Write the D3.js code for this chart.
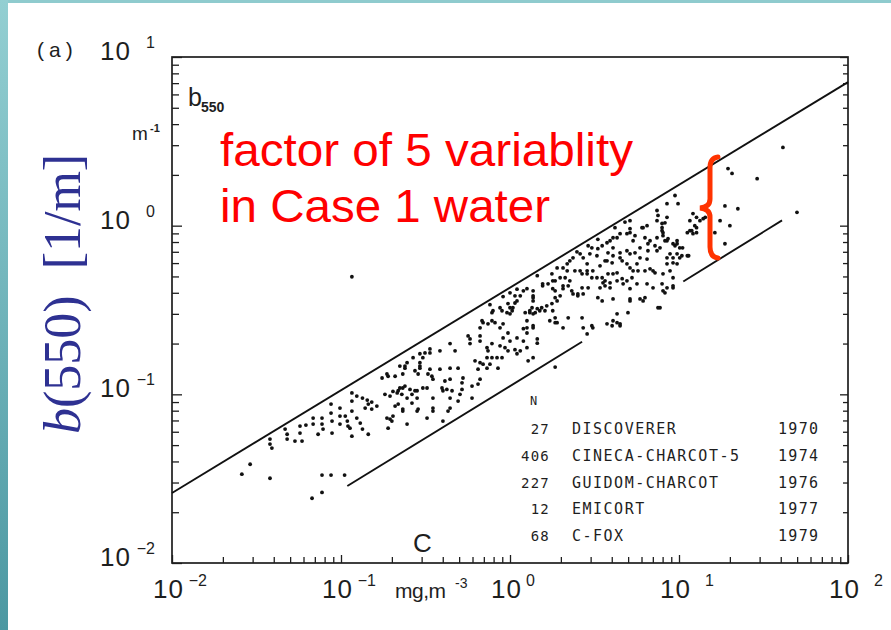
<!DOCTYPE html>
<html><head><meta charset="utf-8">
<script src="https://cdn.jsdelivr.net/npm/d3@7"></script>
<style>html,body{margin:0;padding:0;background:#fff;overflow:hidden;} svg{display:block;}</style>
</head><body>
<script>
// ---------- data ----------
const xTickExps = [-2, -1, 0, 1, 2];
const yTickExps = [-2, -1, 0, 1];
const upperBound  = [[0.01, 0.026], [100, 7.1]];
const lowerBoundA = [[0.109, 0.0286], [2.67, 0.205]];
const lowerBoundB = [[10.6, 0.467], [40.7, 1.075]];
const legendN      = ["27", "406", "227", "12", "68"];
const legendCruise = ["DISCOVERER", "CINECA-CHARCOT-5", "GUIDOM-CHARCOT", "EMICORT", "C-FOX"];
const legendYear   = ["1970", "1974", "1976", "1977", "1979"];

const ptsOligo = [[0.0259,0.0336],[0.029,0.0385],[0.038,0.0318],[0.0772,0.0332],[0.0873,0.0332],[0.105,0.0332],[0.0674,0.0242],[0.0772,0.0262],
[0.038,0.0543],[0.038,0.0507],[0.039,0.048],[0.0467,0.0622],[0.048,0.058],[0.048,0.0543],[0.0534,0.0528],[0.0572,0.0648],[0.0572,0.0589],[0.0588,0.0528],
[0.0684,0.0723],[0.0684,0.0666],[0.0772,0.0723],[0.0772,0.0666],[0.0783,0.0622],[0.0873,0.0876],[0.0873,0.0774],[0.0885,0.0694],[0.0885,0.0589],
[0.0986,0.0829],[0.0986,0.0743],[0.0986,0.0666],[0.106,0.0743],[0.109,0.0694],[0.11,0.0648],[0.116,0.102],[0.116,0.0912],[0.116,0.0796],[0.116,0.0565],
[0.124,0.0723],[0.13,0.0675],[0.134,0.0622],[0.145,0.058],[0.124,0.0977],[0.134,0.095],[0.143,0.0925],[0.152,0.09],[0.139,0.0829],[0.152,0.0818],[0.163,0.0852],
[0.182,0.1],[0.195,0.0977],[0.203,0.104],[0.218,0.105],[0.187,0.0723],[0.2,0.0694],[0.19,0.063],[0.187,0.132],[0.175,0.125],[0.113,0.063],[0.062,0.0657],[0.0732,0.058],[0.116,0.498]];

const ptsMeso = [[0.232,0.109],[0.246,0.095],[0.282,0.105],[0.323,0.109],[0.35,0.095],[0.401,0.105],[0.232,0.0796],[0.282,0.0796],[0.323,0.0723],[0.35,0.0796],[0.195,0.0713],[0.246,0.0666],[0.145,0.0876],[0.239,0.147],[0.293,0.147],[0.286,0.132],[0.345,0.128],[0.385,0.141],[0.412,0.12],[0.401,0.0694],[0.43,0.0796],
[0.229,0.1],[0.263,0.1],[0.282,0.095],[0.286,0.0818],[0.218,0.0876],[0.263,0.0888],[0.19,0.128],[0.209,0.128],[0.223,0.109],[0.239,0.112],[0.256,0.107],[0.274,0.105],[0.215,0.102],[0.209,0.0852],[0.232,0.0818],[0.203,0.0743],[0.35,0.0829],[0.305,0.109],
[0.442,0.095],[0.493,0.0912],[0.596,0.095],[0.442,0.0829],[0.506,0.1],[0.396,0.109],[0.423,0.107],[0.454,0.105],[0.52,0.107],[0.596,0.112],[0.647,0.115],[0.665,0.123],[0.442,0.123],[0.327,0.132],[0.35,0.123],[0.527,0.125],[0.52,0.117],
[0.239,0.143],[0.232,0.132],[0.293,0.154],[0.293,0.143],[0.274,0.138],[0.336,0.141],[0.442,0.143],[0.493,0.143],[0.223,0.147],[0.246,0.154],[0.267,0.165],[0.293,0.174],[0.336,0.176],[0.385,0.181],[0.442,0.2],[0.305,0.165],[0.314,0.176],[0.336,0.186],[0.473,0.181],
[0.58,0.213],[0.58,0.2],[0.665,0.207],[0.731,0.189],[0.782,0.2],[0.873,0.194],[0.934,0.189],[0.973,0.181],[1.07,0.184],[1.15,0.181],[0.741,0.181],[0.731,0.165],[0.782,0.165],[0.838,0.165],[0.897,0.165],[0.665,0.154],[0.693,0.151],[0.761,0.151],[0.621,0.158],[0.647,0.141],[0.731,0.143],[0.849,0.143],[1.28,0.158],[1.37,0.165],
[0.565,0.222],[0.693,0.266],[0.782,0.305],[0.815,0.266],[0.91,0.262],[0.973,0.231],[0.665,0.222],[0.683,0.273],[0.782,0.273],[0.973,0.345],[0.741,0.262],[0.873,0.248],[0.665,0.248]];

const ptsMeso2 = [[1.37,0.411],[1.37,0.384],[1.37,0.358],[1.2,0.411],[1.56,0.452],[1.07,0.384],[1.07,0.348],[1.04,0.326],[0.897,0.313],[1.0,0.3],[1.23,0.305],[1.31,0.305],[1.41,0.305],[1.5,0.313],[1.61,0.313],[1.79,0.313],[1.85,0.266],[1.26,0.248],[1.26,0.231],[1.37,0.255],[1.45,0.213],[1.45,0.201],[1.79,0.471],[1.85,0.411],[1.85,0.374],[1.85,0.145],
[1.26,0.423],[1.15,0.384],[1.1,0.358],[1.0,0.326],[0.96,0.305],[1.37,0.3],[1.9,0.358],[1.45,0.505],[0.91,0.216],[1.0,0.207],[1.1,0.216],[1.2,0.207],[1.26,0.189],[1.1,0.174],[0.793,0.313],[0.873,0.326],[1.03,0.313],[1.31,0.313],[0.91,0.38],[1.0,0.4],[1.1,0.42],[0.761,0.34],
[1.26,0.273],[1.2,0.245],[1.37,0.248],[1.72,0.273],[2.06,0.248],[1.68,0.452],[1.77,0.518],[1.85,0.471],[1.98,0.491],[1.79,0.423],[1.56,0.44],[2.06,0.44],[2.21,0.44],[1.35,0.326],[1.45,0.322],[1.54,0.326],[1.65,0.335],[1.77,0.345],[1.98,0.384],[1.37,0.374],[1.85,0.284],[1.9,0.266],[2.21,0.284]];

const ptsEutro = [[2.18,0.594],[1.9,0.562],[2.12,0.491],[2.36,0.645],[2.26,0.619],[2.49,0.7],[2.71,0.645],[2.86,0.594],[2.06,0.562],[2.18,0.54],[2.42,0.54],[2.67,0.518],[2.86,0.54],[3.09,0.54],[3.27,0.491],[3.51,0.491],[3.55,0.458],[3.65,0.44],[3.91,0.458],[3.8,0.518],[4.3,0.525],[4.3,0.471],[4.61,0.485],[4.92,0.471],[5.27,0.491],[5.64,0.452],[4.67,0.452],
[2.32,0.411],[2.36,0.394],[2.52,0.394],[2.71,0.394],[2.67,0.428],[2.9,0.428],[3.31,0.374],[3.51,0.358],[4.07,0.368],[3.91,0.428],[5.13,0.368],[5.88,0.368],[6.29,0.374],[5.13,0.423],
[2.67,0.284],[2.86,0.228],[3.09,0.248],[3.75,0.262],[4.07,0.273],[4.48,0.262],[4.99,0.305],[4.3,0.3],[6.13,0.358],[7.72,0.326],[5.13,0.358],[8.04,0.411],[8.49,0.428],[7.02,0.428],[6.47,0.452],
[5.35,0.54],[5.64,0.594],[7.02,0.54],[8.04,0.518],[9.22,0.491],[9.74,0.594],[9.22,0.645],[10.1,0.645],[11.2,0.663],[8.49,0.814],[9.74,0.781],[10.5,0.739],[11.6,0.934],[12.1,0.896],[12.1,1.18],[11.6,1.07],[12.7,1.12],
[3.41,0.428],[3.65,0.471],[4.07,0.518],[2.52,0.384],[2.06,0.423],[2.26,0.471],[2.6,0.54],[2.86,0.518],[3.05,0.491],[3.41,0.578],[3.75,0.619],[4.07,0.663],[4.48,0.645],[5.13,0.681],[5.88,0.739],[6.55,0.781],[7.41,0.848],[7.72,0.739],[5.35,0.814],[4.48,0.896],[4.07,0.848],[3.75,0.792],[6.04,0.973],[5.13,0.96],[4.3,0.848],[3.91,0.814],[4.07,0.739],[3.8,0.69],[4.48,0.69],[4.92,0.71],[5.49,0.69],[5.88,0.645],[6.47,0.634],[6.55,0.71],
[3.51,0.76],[3.31,0.73],[3.05,0.739],[2.97,0.681],[3.27,0.663],[3.65,0.619],[4.02,0.602],[4.61,0.619],[4.92,0.594],[5.13,0.562],[5.72,0.54],[6.29,0.54],[6.74,0.555],[7.21,0.525],[8.49,0.645],[8.49,0.594],[9.22,0.602],[10.4,0.663],[8.85,0.54],[11.2,0.909],[12.7,0.973],[6.13,0.973],[6.47,1.0],[5.13,1.07],[5.13,0.909],[4.92,0.896],[5.49,0.872],[6.29,0.848],[6.74,0.814],[7.21,0.76],[7.41,0.71],
[9.47,1.51],[9.87,1.35],[8.49,1.35],[7.41,1.23],[7.51,1.15],[7.41,1.07],[7.94,1.03],[7.94,0.934],[8.04,0.872],[8.26,0.814],[9.22,0.781],[4.79,1.05],[4.18,0.973],[3.31,0.83],[2.9,0.76],[2.6,0.681],[7.94,0.452],[8.26,0.4],[9.22,0.428],[7.51,0.326],[4.3,0.266],[4.02,0.255],[4.48,0.255],[3.05,0.255],[2.71,0.248]];

const ptsHigh = [[41.2,2.91],[19.5,2.18],[20.6,2.04],[29,1.9],[18.7,1.31],[22.3,1.26],[49.9,1.2],[17.5,1.07],[20,1.0],[18.7,0.781],[13.9,1.1],[13.3,1.07],[12.4,1.0],[11.9,0.934],[12.7,0.909],[14.3,1.12],[16.3,0.909],[8.49,1.12],[8.26,1.04],[7.94,0.973],[8.04,0.909],[8.61,0.837],[9.74,0.814],[9.47,0.76],[10.1,0.739],[9.74,0.681],[8.85,0.681],[11.4,0.663],[9.22,0.44]];

// ---------- drawing ----------
const W = 891, H = 630;
const svg = d3.select("body").append("svg").attr("width", W).attr("height", H);
const defs = svg.append("defs");
const grad = defs.append("linearGradient").attr("id", "edge").attr("x1", 0).attr("y1", 0).attr("x2", 0).attr("y2", 1);
grad.append("stop").attr("offset", "0%").attr("stop-color", "#93cfd2");
grad.append("stop").attr("offset", "100%").attr("stop-color", "#4c98a2");
svg.append("rect").attr("width", W).attr("height", H).attr("fill", "#fff");
svg.append("rect").attr("x", 0).attr("y", 0).attr("width", W).attr("height", 3).attr("fill", "#8fcbce");
svg.append("rect").attr("x", 0).attr("y", 0).attr("width", 8).attr("height", H).attr("fill", "url(#edge)");

const x = d3.scaleLog().domain([0.01, 100]).range([172, 848]);
const y = d3.scaleLog().domain([0.01, 10]).range([563, 57]);
const ink = "#1e1e1e";
const isMajor = v => Math.abs(Math.log10(v) - Math.round(Math.log10(v))) < 1e-6;

function styleAxis(g, longLen, shortLen, dir) {
  g.select(".domain").remove();
  g.selectAll(".tick line").attr("stroke", ink).attr("stroke-width", 1.3)
    .each(function(d) {
      const L = isMajor(d) ? longLen : shortLen;
      const sel = d3.select(this);
      if (dir === "h") sel.attr("x2", L); else sel.attr("y2", L);
    });
}
svg.append("g").attr("transform", "translate(172,0)")
  .call(d3.axisRight(y).tickValues(y.ticks()).tickFormat(""))
  .call(g => styleAxis(g, 10, 7, "h"));
svg.append("g").attr("transform", "translate(848,0)")
  .call(d3.axisLeft(y).tickValues(y.ticks()).tickFormat(""))
  .call(g => styleAxis(g, -8, -5, "h"));
svg.append("g").attr("transform", "translate(0,563)")
  .call(d3.axisTop(x).tickValues(x.ticks()).tickFormat(""))
  .call(g => styleAxis(g, -8, -6, "v"));

svg.append("rect").attr("x", 172).attr("y", 57).attr("width", 676).attr("height", 506)
  .attr("fill", "none").attr("stroke", ink).attr("stroke-width", 1.7);

const line = d3.line().x(d => x(d[0])).y(d => y(d[1]));
[upperBound, lowerBoundA, lowerBoundB].forEach(L => {
  svg.append("path").attr("d", line(L)).attr("fill", "none").attr("stroke", "#111").attr("stroke-width", 1.9);
});

const allPts = [].concat(ptsOligo, ptsMeso, ptsMeso2, ptsEutro, ptsHigh);
svg.append("g").selectAll("circle").data(allPts).join("circle")
  .attr("cx", d => x(d[0])).attr("cy", d => y(d[1])).attr("r", 1.9).attr("fill", "#111");

// ---------- scanned-style labels ----------
const sans = "'Liberation Sans', Arial, sans-serif";
yTickExps.forEach(e => {
  const ty = y(Math.pow(10, e));
  svg.append("text").attr("x", 100).attr("y", ty + 3).attr("font-family", sans).attr("font-size", 26)
    .attr("fill", ink).attr("letter-spacing", 1).text("10");
  svg.append("text").attr("x", 155).attr("y", ty - 9).attr("text-anchor", "end").attr("font-family", sans)
    .attr("font-size", 16).attr("fill", ink).text(e < 0 ? "\u2212" + (-e) : String(e));
});
xTickExps.forEach(e => {
  const tx = x(Math.pow(10, e));
  svg.append("text").attr("x", tx - 19).attr("y", 598).attr("font-family", sans).attr("font-size", 26)
    .attr("fill", ink).attr("letter-spacing", 1).text("10");
  svg.append("text").attr("x", tx + (e === 0 ? 25 : 35)).attr("y", 586).attr("text-anchor", "end")
    .attr("font-family", sans).attr("font-size", 16).attr("fill", ink).text(e < 0 ? "\u2212" + (-e) : String(e));
});
svg.append("text").attr("x", 37).attr("y", 57).attr("font-family", sans).attr("font-size", 21)
  .attr("letter-spacing", 5).attr("fill", ink).text("(a)");
// unit of x
svg.append("text").attr("x", 395).attr("y", 598).attr("font-family", sans).attr("font-size", 21)
  .attr("fill", ink).attr("letter-spacing", -0.5).text("mg,m");
svg.append("text").attr("x", 455).attr("y", 588).attr("font-family", sans).attr("font-size", 14)
  .attr("fill", ink).text("-3");
// b550 and unit
svg.append("text").attr("x", 188).attr("y", 106).attr("font-family", sans).attr("font-size", 25)
  .attr("fill", ink).text("b");
svg.append("text").attr("x", 201).attr("y", 112).attr("font-family", sans).attr("font-size", 14)
  .attr("font-weight", "bold").attr("fill", ink).text("550");
svg.append("text").attr("x", 132).attr("y", 140).attr("font-family", sans).attr("font-size", 19)
  .attr("fill", ink).text("m");
svg.append("text").attr("x", 150).attr("y", 132).attr("font-family", sans).attr("font-size", 11)
  .attr("font-weight", "bold").attr("fill", ink).text("-1");
svg.append("text").attr("x", 413).attr("y", 552).attr("font-family", sans).attr("font-size", 26)
  .attr("fill", ink).text("C");

// legend
const mono = "'DejaVu Sans Mono', monospace";
svg.append("text").attr("x", 530).attr("y", 405).attr("font-family", mono).attr("font-size", 12)
  .attr("fill", ink).text("N");
legendN.forEach((n, i) => {
  const by = 434 + i * 26.8;
  svg.append("text").attr("x", 550).attr("y", by).attr("text-anchor", "end").attr("font-family", mono)
    .attr("font-size", 14).attr("letter-spacing", 1.2).attr("fill", ink).text(n);
  svg.append("text").attr("x", 572).attr("y", by).attr("font-family", mono).attr("font-size", 15)
    .attr("letter-spacing", 1.5).attr("fill", ink).text(legendCruise[i]);
  svg.append("text").attr("x", 778).attr("y", by).attr("font-family", mono).attr("font-size", 15)
    .attr("letter-spacing", 1.3).attr("fill", ink).text(legendYear[i]);
});

// ---------- slide annotations ----------
svg.append("text").attr("x", 220).attr("y", 166).attr("font-family", sans).attr("font-size", 47)
  .attr("fill", "#ff0000").attr("textLength", 413).attr("lengthAdjust", "spacingAndGlyphs")
  .text("factor of 5 variablity");
svg.append("text").attr("x", 220).attr("y", 222).attr("font-family", sans).attr("font-size", 47)
  .attr("fill", "#ff0000").attr("textLength", 330).attr("lengthAdjust", "spacingAndGlyphs")
  .text("in Case 1 water");
svg.append("path")
  .attr("d", "M718,157 Q710,158 710,168 L710,199 Q710,207 700,208 Q710,209 710,217 L710,247 Q710,257 718,258")
  .attr("fill", "none").attr("stroke", "#ff3300").attr("stroke-width", 5).attr("stroke-linecap", "round");

const ylab = svg.append("text").attr("transform", "translate(80,434) rotate(-90)")
  .attr("font-family", "'Liberation Serif', 'Times New Roman', serif").attr("font-size", 52)
  .attr("fill", "#2e3192");
ylab.append("tspan").attr("font-style", "italic").text("b");
ylab.append("tspan").text("(550)");
ylab.append("tspan").attr("dx", 26).text("[1/m]");
</script>
</body></html>
